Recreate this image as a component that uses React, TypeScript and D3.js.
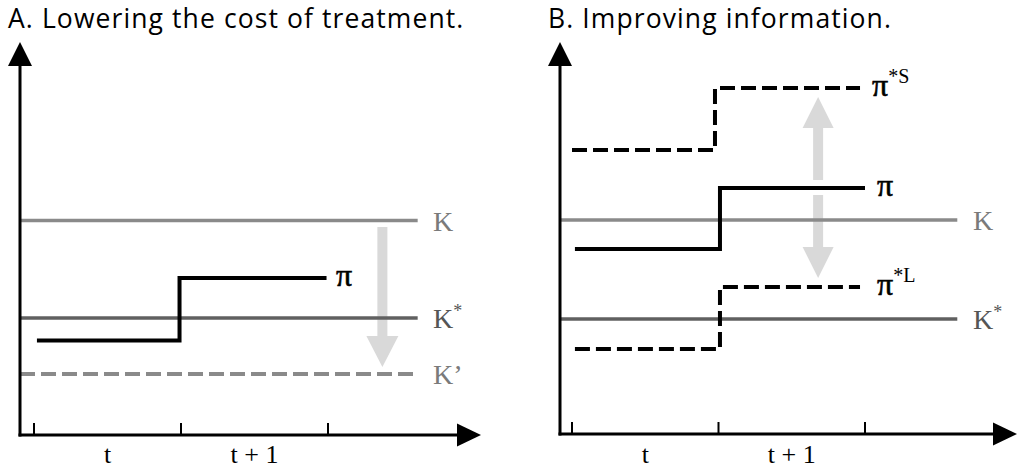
import React from "react";
import * as d3 from "d3";

// ---- data ----
const tickPositions = [0, 1, 2];
const tickLabels = [
  { t: 0.5, text: "t" },
  { t: 1.5, text: "t + 1" },
];

// Panel A levels
const levelsA = [
  { key: "K", value: 53.6, dashed: false, color: "#8a8a8a", label: "K", sup: "", labelColor: "#7a7a7a" },
  { key: "Kstar", value: 29.25, dashed: false, color: "#606060", label: "K", sup: "*", labelColor: "#555555" },
  { key: "Kprime", value: 15.25, dashed: true, color: "#8a8a8a", label: "K’", sup: "", labelColor: "#7a7a7a" },
];
const piA: [number, number][] = [
  [0.02, 23.6],
  [0.99, 39.25],
  [1.99, 39.25],
];
const arrowA = { t: 2.37, from: 52, to: 17 };

// Panel B levels
const levelsB = [
  { key: "K", value: 53.75, dashed: false, color: "#8a8a8a", label: "K", sup: "", labelColor: "#7a7a7a" },
  { key: "Kstar", value: 29, dashed: false, color: "#606060", label: "K", sup: "*", labelColor: "#555555" },
];
const piB: [number, number][] = [
  [0.02, 46.5],
  [1.01, 61.75],
  [2.0, 61.75],
];
const piStarS: [number, number][] = [
  [0.0, 71.25],
  [0.976, 86.75],
  [1.966, 86.75],
];
const piStarL: [number, number][] = [
  [0.02, 21.5],
  [1.01, 37],
  [1.966, 37],
];
const arrowBUp = { t: 1.68, from: 63.75, to: 84.5 };
const arrowBDown = { t: 1.68, from: 60, to: 39.25 };

const SERIF = "'Liberation Serif', 'Times New Roman', Times, serif";
const SANS = "'Open Sans', 'Noto Sans', sans-serif";

function arrowPoly(x: number, y0: number, y1: number, shaftW: number, headW: number, headL: number) {
  const dir = y1 > y0 ? 1 : -1;
  const yb = y1 - dir * headL;
  const p = d3.path();
  p.moveTo(x - shaftW / 2, y0);
  p.lineTo(x - shaftW / 2, yb);
  p.lineTo(x - headW / 2, yb);
  p.lineTo(x, y1);
  p.lineTo(x + headW / 2, yb);
  p.lineTo(x + shaftW / 2, yb);
  p.lineTo(x + shaftW / 2, y0);
  p.closePath();
  return p.toString();
}

type PanelProps = {
  title: string;
  titleX: number;
  axisX: number;
  xRange: [number, number];
  axisTipX: number;
  axisY: number;
  children: (x: d3.ScaleLinear<number, number>, y: d3.ScaleLinear<number, number>) => React.ReactNode;
};

function Panel({ title, titleX, axisX, xRange, axisTipX, axisY, children }: PanelProps) {
  const x = d3.scaleLinear().domain([0, 2]).range(xRange);
  const y = d3.scaleLinear().domain([0, 100]).range([435, 35]);
  const yTop = 42;
  const headLY = 24;
  const headWY = 24;
  const headLX = 24;
  const headWX = 23;
  return (
    <g>
      <text x={titleX} y={28} style={{ fontFamily: SANS, fontSize: 26.5, letterSpacing: 1.1 }} fill="#000">
        {title}
      </text>
      {children(x, y)}
      {/* y axis */}
      <line x1={axisX} x2={axisX} y1={axisY + 1.5} y2={yTop + headLY - 1} stroke="#000" strokeWidth={3} />
      <path
        d={`M${axisX},${yTop}L${axisX - headWY / 2},${yTop + headLY}L${axisX + headWY / 2},${yTop + headLY}Z`}
        fill="#000"
      />
      {/* x axis */}
      <line x1={axisX - 1.5} x2={axisTipX - headLX + 1} y1={axisY} y2={axisY} stroke="#000" strokeWidth={3} />
      <path
        d={`M${axisTipX},${axisY}L${axisTipX - headLX},${axisY - headWX / 2}L${axisTipX - headLX},${axisY + headWX / 2}Z`}
        fill="#000"
      />
      {tickPositions.map((t) => (
        <line key={t} x1={x(t)} x2={x(t)} y1={axisY} y2={axisY - 12} stroke="#000" strokeWidth={2} />
      ))}
      {tickLabels.map((d) => (
        <text
          key={d.text}
          x={x(d.t)}
          y={463}
          textAnchor="middle"
          style={{ fontFamily: SERIF, fontSize: 26 }}
          fill="#000"
        >
          {d.text}
        </text>
      ))}
    </g>
  );
}

function LevelLines({
  levels,
  x,
  y,
  x0,
  tEnd,
  labelX,
}: {
  levels: typeof levelsA;
  x: d3.ScaleLinear<number, number>;
  y: d3.ScaleLinear<number, number>;
  x0: number;
  tEnd: number;
  labelX: number;
}) {
  return (
    <g>
      {levels.map((l) => (
        <g key={l.key}>
          <line
            x1={x0}
            x2={x(tEnd)}
            y1={y(l.value)}
            y2={y(l.value)}
            stroke={l.color}
            strokeWidth={l.dashed ? 4 : 3.5}
            strokeDasharray={l.dashed ? "15 6" : undefined}
          />
          <text x={labelX} y={y(l.value) + 10} style={{ fontFamily: SERIF, fontSize: 28 }} fill={l.labelColor}>
            {l.label}
            {l.sup && (
              <tspan style={{ fontSize: 18 }} dy={-11}>
                {l.sup}
              </tspan>
            )}
          </text>
        </g>
      ))}
    </g>
  );
}

function PiLabel({ x, y, sup }: { x: number; y: number; sup?: string }) {
  return (
    <text x={x} y={y} style={{ fontFamily: SERIF, fontSize: 32 }} fill="#000">
      <tspan stroke="#000" strokeWidth={0.6}>π</tspan>
      {sup && (
        <tspan style={{ fontSize: 20 }} dy={-13}>
          {sup}
        </tspan>
      )}
    </text>
  );
}

export default function App() {
  const step = d3.line<[number, number]>().curve(d3.curveStepAfter);

  return (
    <svg
      width={1018}
      height={476}
      viewBox="0 0 1018 476"
      style={{ position: "absolute", left: 0, top: 0, display: "block", background: "#fff" }}
    >
      <rect x={0} y={0} width={1018} height={476} fill="#fff" />
      <Panel
        title="A. Lowering the cost of treatment."
        titleX={8}
        axisX={20}
        xRange={[34, 328]}
        axisTipX={481}
        axisY={435}
      >
        {(x, y) => {
          const ln = step.x((d) => x(d[0])).y((d) => y(d[1]));
          return (
            <g>
              <path
                d={arrowPoly(x(arrowA.t), y(arrowA.from), y(arrowA.to), 10, 32, 31)}
                fill="#d9d9d9"
              />
              <LevelLines levels={levelsA} x={x} y={y} x0={20} tEnd={2.61} labelX={433} />
              <path d={ln(piA) || ""} fill="none" stroke="#000" strokeWidth={4} strokeLinejoin="miter" />
              <PiLabel x={336} y={y(piA[2][1]) + 8} />
            </g>
          );
        }}
      </Panel>
      <Panel
        title="B. Improving information."
        titleX={548}
        axisX={560}
        xRange={[572, 865]}
        axisTipX={1017}
        axisY={434}
      >
        {(x, y) => {
          const ln = step.x((d) => x(d[0])).y((d) => y(d[1]));
          return (
            <g>
              <path
                d={arrowPoly(x(arrowBUp.t), y(arrowBUp.from), y(arrowBUp.to), 10, 31, 31)}
                fill="#d9d9d9"
              />
              <path
                d={arrowPoly(x(arrowBDown.t), y(arrowBDown.from), y(arrowBDown.to), 10, 31, 31)}
                fill="#d9d9d9"
              />
              <LevelLines levels={levelsB} x={x} y={y} x0={560} tEnd={2.63} labelX={973} />
              <path d={ln(piStarS) || ""} fill="none" stroke="#000" strokeWidth={4} strokeDasharray="15 6" />
              <path d={ln(piStarL) || ""} fill="none" stroke="#000" strokeWidth={4} strokeDasharray="15 6" />
              <path d={ln(piB) || ""} fill="none" stroke="#000" strokeWidth={4} />
              <PiLabel x={872} y={y(piStarS[2][1]) + 8} sup="*S" />
              <PiLabel x={877} y={y(piB[2][1]) + 8} />
              <PiLabel x={877} y={y(piStarL[2][1]) + 8} sup="*L" />
            </g>
          );
        }}
      </Panel>
    </svg>
  );
}
